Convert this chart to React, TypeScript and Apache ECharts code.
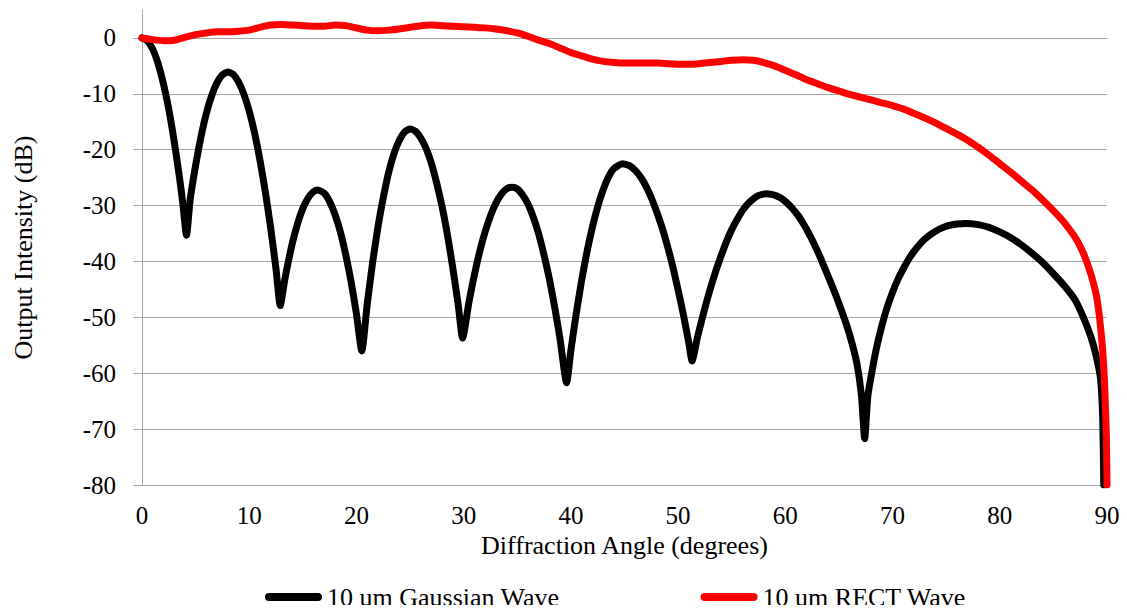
import React, { useEffect, useRef } from "react";
import * as echarts from "echarts";

const gaussianAngle = [
  0, 0.5, 1, 1.5, 2, 2.5, 3, 3.5, 3.8, 4.15,
  4.5, 5, 5.5, 6, 6.5, 7, 7.5, 8, 8.5, 9, 9.5, 10, 10.5, 11, 11.5, 12, 12.5, 12.9,
  13.25, 13.5, 14, 14.5, 15, 15.5, 16, 16.4, 17, 17.5, 18, 18.5, 19, 19.5, 20, 20.5,
  21, 21.5, 22, 22.5, 23, 23.5, 24, 24.5, 25, 25.5, 26, 26.5, 27, 27.5, 28, 28.5, 29, 29.5, 29.9,
  30.5, 31, 31.5, 32, 32.5, 33, 33.5, 34, 34.5, 35, 35.5, 36, 36.5, 37, 37.5, 38, 38.5, 39, 39.6,
  40, 40.5, 41, 41.5, 42, 42.5, 43, 43.5, 44, 44.8, 45.5, 46, 46.5, 47, 47.5, 48, 48.5, 49, 49.5, 50, 50.5, 51, 51.3,
  51.8, 52.3, 52.8, 53.3, 53.8, 54.5, 55, 55.5, 56, 56.5, 57, 57.5, 58.2, 58.7, 59.2, 59.7, 60.2, 60.7, 61.2, 61.7,
  62.2, 62.7, 63.2, 63.7, 64.2, 64.7, 65.2, 65.7, 66.2, 66.7, 67.1, 67.4,
  67.7, 68.1, 68.5, 69, 69.5, 70, 70.5, 71, 71.5, 72, 72.5, 73, 74, 75, 76, 76.8, 78, 79, 80, 81, 82, 83, 84, 85, 86,
  87, 87.8, 88.5, 89, 89.4, 89.6, 89.7,
];
const gaussianDb = [
  0, -0.5, -2, -4.6, -8.2, -12.8, -18.5, -25, -29.5, -35.3,
  -28.8, -22.8, -17.7, -13.5, -10.3, -8.0, -6.6, -6.1, -6.5, -7.85, -10.05, -13.1, -17.0, -21.85, -27.5, -34.0, -41.4, -47.9,
  -44.0, -41.4, -36.9, -33.3, -30.5, -28.6, -27.5, -27.2, -27.8, -29.3, -31.6, -34.7, -38.8, -43.6, -49.4, -56,
  -47.7, -40.3, -33.9, -28.6, -24.1, -20.7, -18.3, -16.8, -16.3, -16.7, -17.9, -19.8, -22.5, -26.1, -30.3, -35.4, -41.3, -47.9, -53.7,
  -47.2, -42.4, -38.2, -34.7, -31.8, -29.6, -28.0, -27.0, -26.7, -27.0, -28.1, -29.7, -32.1, -35.1, -38.9, -43.2, -48.3, -54.0, -61.7,
  -55.9, -49.3, -43.4, -38.3, -33.9, -30.2, -27.2, -24.9, -23.4, -22.5, -22.9, -23.7, -24.9, -26.5, -28.6, -31.1, -33.9, -37.2, -40.9, -45.1, -49.6, -54.6, -57.8,
  -53.6, -49.8, -46.2, -43.0, -40.1, -36.5, -34.3, -32.5, -30.9, -29.7, -28.8, -28.2, -27.9, -28.0, -28.3, -28.8, -29.6, -30.6, -31.8, -33.3,
  -35.0, -36.9, -39.0, -41.3, -43.6, -46.0, -48.6, -51.3, -54.5, -58.5, -64, -71.7,
  -64, -59.5, -55.5, -51.5, -48.2, -45.5, -43.2, -41.3, -39.6, -38.2, -37.0, -36.0, -34.6, -33.7, -33.3, -33.2, -33.4, -33.9, -34.7, -35.7, -37.0, -38.5, -40.2, -42.2, -44.3,
  -46.8, -50, -53.5, -57, -61, -68, -80,
];

const rectAngle = [
  0, 1, 2, 3, 4, 5, 6, 7, 8, 9, 10, 11, 12, 13, 14, 15, 16, 17, 18, 19, 20,
  21, 22, 23, 24, 25, 26, 27, 28, 29, 30, 31, 32, 33, 34, 35, 36, 37, 38, 39, 40,
  41, 42, 43, 44, 45, 46, 47, 48, 49, 50, 51, 52, 53, 54, 55, 56, 57, 58, 59, 60,
  61, 62, 63, 64, 65, 66, 67, 68, 69, 70, 71, 72, 73, 74, 75, 76, 77, 78, 79, 80,
  81, 82, 83, 84, 85, 86, 87, 87.5, 88, 88.5, 89, 89.3, 89.6, 89.8, 89.95, 90,
];
const rectDb = [
  0, -0.3, -0.5, -0.4, 0.1, 0.6, 0.9, 1.1, 1.1, 1.2, 1.4, 1.9, 2.3, 2.4, 2.3, 2.2, 2.1, 2.1, 2.3, 2.2, 1.8,
  1.4, 1.3, 1.4, 1.6, 1.9, 2.2, 2.3, 2.2, 2.1, 2.0, 1.9, 1.8, 1.6, 1.3, 0.9, 0.3, -0.4, -1.0, -1.8, -2.6,
  -3.2, -3.8, -4.2, -4.4, -4.5, -4.5, -4.5, -4.5, -4.6, -4.7, -4.7, -4.6, -4.4, -4.2, -4.0, -3.9, -4.0, -4.4, -5.0, -5.8,
  -6.6, -7.5, -8.2, -8.9, -9.5, -10.1, -10.6, -11.1, -11.6, -12.1, -12.7, -13.5, -14.3, -15.2, -16.2, -17.2, -18.3, -19.6, -21.0, -22.5,
  -24.0, -25.6, -27.2, -29.0, -30.9, -33.0, -35.6, -37.3, -39.5, -42.3, -46, -50, -56, -63, -72, -80,
];

const seriesNames = ["10 um Gaussian Wave", "10 um RECT Wave"];
const yTickValues = [-80, -70, -60, -50, -40, -30, -20, -10, 0];

const FONT = "'Liberation Serif', 'Times New Roman', serif";
const GRID_COLOR = "#a6a6a6";

export default function App() {
  const ref = useRef<HTMLDivElement>(null);
  useEffect(() => {
    if (!ref.current) return;
    const chart = echarts.init(ref.current, null, { renderer: "svg" });
    const gaussian = gaussianAngle.map((a, i) => [a, gaussianDb[i]]);
    const rect = rectAngle.map((a, i) => [a, rectDb[i]]);
    const splitColors = yTickValues.map(() => GRID_COLOR).concat(["transparent"]);
    chart.setOption({
      animation: false,
      backgroundColor: "#ffffff",
      textStyle: { fontFamily: FONT },
      grid: { left: 142, right: 20, top: 10, bottom: 128, containLabel: false },
      legend: {
        data: seriesNames,
        left: 260,
        top: 579,
        itemWidth: 57,
        itemHeight: 8,
        itemGap: 141,
        icon: "path://M4,0 H53 A4,4 0 0 1 53,8 H4 A4,4 0 0 1 4,0 Z",
        textStyle: { fontFamily: FONT, fontSize: 26, color: "#000" },
      },
      xAxis: {
        type: "value",
        min: 0,
        max: 90,
        interval: 10,
        name: "Diffraction Angle (degrees)",
        nameLocation: "middle",
        nameGap: 46,
        nameTextStyle: { fontFamily: FONT, fontSize: 26, color: "#000" },
        axisLine: { show: true, lineStyle: { color: GRID_COLOR, width: 1 } },
        axisTick: { show: false },
        splitLine: { show: false },
        axisLabel: { fontFamily: FONT, fontSize: 25, color: "#000", margin: 18 },
      },
      yAxis: {
        type: "value",
        min: -80,
        max: 5,
        interval: 10,
        name: "Output Intensity (dB)",
        nameLocation: "middle",
        nameGap: 106,
        nameTextStyle: { fontFamily: FONT, fontSize: 26, color: "#000" },
        axisLine: { show: true, lineStyle: { color: GRID_COLOR, width: 1 } },
        axisTick: {
          show: true,
          inside: false,
          length: 9,
          customValues: yTickValues,
          lineStyle: { color: GRID_COLOR },
        },
        splitLine: { show: true, lineStyle: { color: splitColors, width: 1 } },
        axisLabel: {
          fontFamily: FONT,
          fontSize: 25,
          color: "#000",
          margin: 26,
          customValues: yTickValues,
          formatter: (v: number) => (v > 0 ? "" : String(v)),
        },
      },
      series: [
        {
          name: seriesNames[0],
          type: "line",
          data: gaussian,
          showSymbol: false,
          smooth: 0.2,
          lineStyle: { color: "#000000", width: 7, cap: "round", join: "round" },
          itemStyle: { color: "#000000" },
        },
        {
          name: seriesNames[1],
          type: "line",
          data: rect,
          showSymbol: false,
          smooth: 0.2,
          lineStyle: { color: "#ff0000", width: 7, cap: "round", join: "round" },
          itemStyle: { color: "#ff0000" },
        },
      ],
    });
    return () => chart.dispose();
  }, []);
  return <div ref={ref} style={{ width: 1127, height: 613, margin: -8 }} />;
}
